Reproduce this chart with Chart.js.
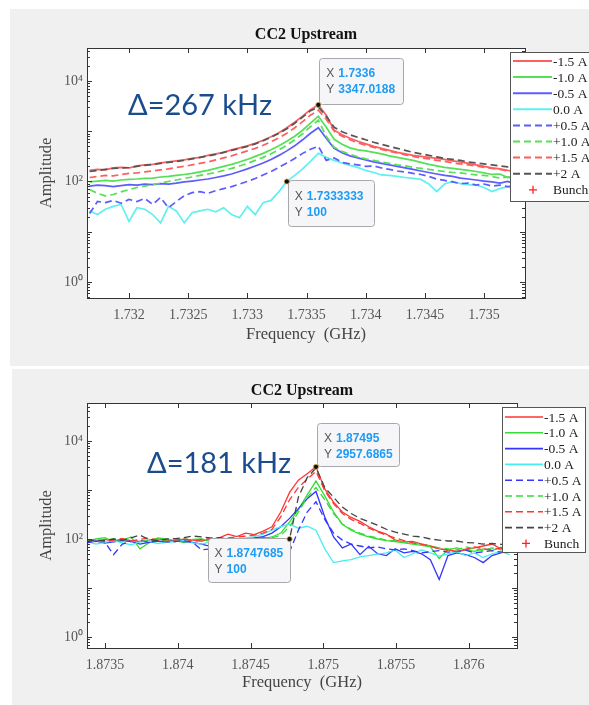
<!DOCTYPE html>
<html>
<head>
<meta charset="utf-8">
<script src="https://cdn.jsdelivr.net/npm/chart.js@4.4.1/dist/chart.umd.min.js"></script>
<style>
  html, body { margin: 0; padding: 0; background: #fff; }
  body { width: 589px; height: 705px; position: relative; overflow: hidden; }
  .panel { position: absolute; background: #f0f0f0; }
  .panel canvas { position: absolute; left: 0; top: 0; }
</style>
</head>
<body>
<div class="panel" style="left:10px;top:9px;width:579px;height:357px"><canvas id="chartTop" width="579" height="357"></canvas></div>
<div class="panel" style="left:12px;top:369px;width:577px;height:336px"><canvas id="chartBottom" width="577" height="336"></canvas></div>
<script>
const seriesLabels = ["-1.5 A", "-1.0 A", "-0.5 A", "0.0 A", "+0.5 A", "+1.0 A", "+1.5 A", "+2 A"];
const markerLabel = "Bunch";
const yTicks = [1, 100, 10000];
const yTickLabels = ["10\u2070", "10\u00b2", "10\u2074"];

// upper plot, 1.7336 GHz mode
const topFreq = [1.7316667, 1.7317333, 1.7318, 1.7318667, 1.7319333, 1.732, 1.7320667, 1.7321333, 1.7322, 1.7322667,
  1.7323333, 1.7324, 1.7324667, 1.7325333, 1.7326, 1.7326667, 1.7327333, 1.7328, 1.7328667, 1.7329333,
  1.733, 1.7330667, 1.7331333, 1.7332, 1.7332667, 1.7333333, 1.7334, 1.7334667, 1.7335333, 1.7336,
  1.7336667, 1.7337333, 1.7338, 1.7338667, 1.7339333, 1.734, 1.7340667, 1.7341333, 1.7342, 1.7342667,
  1.7343333, 1.7344, 1.7344667, 1.7345333, 1.7346, 1.7346667, 1.7347333, 1.7348, 1.7348667, 1.7349333,
  1.735, 1.7350667, 1.7351333, 1.7352, 1.7352667, 1.7353333];
const topM15 = [166, 174, 170, 186, 191, 186, 204, 214, 219, 234, 245, 257, 269, 288, 302, 331, 355, 380, 427, 468,
  513, 575, 661, 776, 933, 1175, 1514, 1995, 2692, 3347.0188, 2089, 1047, 851, 724, 631, 562, 501, 457, 417, 380,
  355, 331, 316, 302, 288, 275, 257, 245, 229, 214, 200, 186, 178, 166, 158, 151];
const topM10 = [98, 102, 105, 102, 107, 110, 112, 115, 117, 123, 126, 132, 138, 145, 155, 166, 182, 200, 219, 245,
  275, 316, 363, 427, 513, 631, 794, 1047, 1445, 1995, 1202, 692, 550, 468, 427, 407, 380, 355, 324, 302,
  282, 263, 240, 219, 204, 191, 182, 174, 166, 158, 148, 138, 141, 120, 129, 115];
const topM05 = [81, 85, 83, 79, 83, 87, 85, 89, 87, 91, 89, 93, 98, 102, 107, 112, 120, 129, 141, 158,
  178, 204, 234, 275, 331, 407, 513, 676, 912, 1175, 724, 457, 372, 324, 295, 269, 245, 229, 214, 200,
  186, 174, 162, 151, 141, 132, 126, 117, 112, 107, 102, 98, 93, 100, 89, 93];
const top00 = [26, 22, 28, 32, 35, 16, 30, 28, 22, 15, 32, 26, 15, 24, 26, 28, 25, 30, 22, 19,
  32, 22, 38, 42, 63, 100, 132, 178, 251, 363, 302, 263, 234, 209, 191, 166, 151, 135, 132, 126,
  120, 115, 110, 89, 63, 89, 100, 91, 87, 85, 76, 63, 72, 79, 71, 76];
const topP05 = [23, 40, 38, 42, 37, 44, 40, 46, 35, 48, 30, 40, 52, 60, 63, 58, 66, 72, 79, 89,
  100, 115, 135, 158, 191, 234, 288, 363, 437, 501, 263, 295, 240, 224, 214, 200, 204, 186, 174, 162,
  155, 145, 138, 126, 112, 105, 98, 91, 93, 85, 89, 81, 85, 79, 83, 78];
const topP10 = [69, 58, 52, 55, 62, 69, 76, 81, 87, 93, 100, 107, 115, 123, 132, 141, 151, 166, 182, 204,
  229, 263, 302, 355, 427, 525, 676, 891, 1230, 1660, 794, 479, 398, 347, 309, 282, 263, 245, 229, 214,
  204, 191, 182, 174, 166, 158, 151, 148, 141, 135, 132, 126, 117, 123, 112, 107];
const topP15 = [120, 126, 132, 129, 138, 145, 148, 155, 162, 170, 178, 191, 200, 214, 229, 245, 269, 295, 324, 363,
  407, 457, 525, 617, 741, 912, 1175, 1549, 2089, 2630, 1738, 1000, 794, 676, 589, 525, 479, 437, 398, 372,
  339, 316, 295, 282, 263, 251, 234, 224, 214, 204, 191, 182, 174, 162, 155, 148];
const topP20 = [158, 166, 174, 182, 186, 190, 200, 209, 219, 229, 240, 251, 263, 282, 302, 324, 347, 380, 417, 457,
  501, 562, 646, 759, 912, 1122, 1445, 1905, 2570, 3020, 1995, 1202, 977, 851, 759, 676, 603, 550, 501, 457,
  417, 380, 355, 331, 309, 288, 275, 263, 245, 234, 224, 214, 204, 195, 190, 186];
const topXTicks = [1.732, 1.7325, 1.733, 1.7335, 1.734, 1.7345, 1.735];
const topXTickLabels = ["1.732", "1.7325", "1.733", "1.7335", "1.734", "1.7345", "1.735"];
const topTipX = ["1.7336", "1.7333333"];
const topTipY = ["3347.0188", "100"];

// lower plot, 1.87495 GHz mode
const botFreq = [1.873377, 1.8734375, 1.873498, 1.8735585, 1.873619, 1.8736795, 1.87374, 1.8738005, 1.873861, 1.8739215,
  1.873982, 1.8740425, 1.874103, 1.8741635, 1.874224, 1.8742845, 1.874345, 1.8744055, 1.874466, 1.8745265,
  1.874587, 1.8746475, 1.874708, 1.8747685, 1.874829, 1.8748895, 1.87495, 1.8750105, 1.875071, 1.8751315,
  1.875192, 1.8752525, 1.875313, 1.8753735, 1.875434, 1.8754945, 1.875555, 1.8756155, 1.875676, 1.8757365,
  1.875797, 1.8758575, 1.875918, 1.8759785, 1.876039, 1.8760995, 1.87616, 1.8762205, 1.876281];
const botM15 = [93, 89, 98, 91, 100, 93, 89, 95, 102, 93, 89, 100, 95, 91, 98, 105, 126, 112, 132, 123,
  145, 178, 355, 891, 1585, 2138, 2957.6865, 1047, 562, 355, 275, 229, 178, 145, 126, 95, 87, 89, 79, 72,
  63, 60, 55, 60, 66, 72, 79, 63, 71];
const botM10 = [91, 100, 107, 89, 95, 110, 63, 83, 105, 100, 93, 85, 98, 100, 91, 95, 100, 93, 98, 105,
  102, 110, 132, 224, 398, 794, 1514, 759, 355, 200, 151, 126, 110, 100, 93, 89, 83, 79, 74, 69,
  40, 60, 66, 60, 56, 63, 58, 68, 60];
const botM05 = [85, 91, 83, 87, 93, 89, 79, 85, 91, 87, 93, 89, 85, 79, 71, 83, 89, 95, 100, 105,
  112, 132, 178, 263, 417, 661, 933, 282, 110, 66, 79, 48, 71, 50, 46, 63, 52, 56, 50, 38,
  15, 46, 52, 48, 42, 33, 46, 52, 58];
const bot00 = [89, 79, 85, 93, 83, 76, 87, 91, 81, 85, 89, 93, 83, 79, 87, 91, 95, 100, 105, 112,
  126, 151, 178, 200, 166, 182, 151, 63, 33, 36, 38, 43, 46, 49, 52, 60, 42, 50, 60, 52,
  45, 50, 55, 46, 52, 42, 50, 55, 48];
const botP05 = [83, 91, 87, 48, 79, 89, 93, 85, 91, 87, 89, 93, 85, 60, 63, 71, 76, 79, 83, 89,
  93, 83, 63, 55, 151, 355, 575, 251, 132, 95, 79, 72, 66, 69, 63, 60, 63, 58, 52, 55,
  58, 54, 56, 59, 52, 55, 58, 54, 56];
const botP10 = [95, 87, 93, 102, 98, 91, 87, 95, 100, 91, 95, 102, 93, 89, 95, 98, 100, 93, 91, 95,
  98, 105, 120, 178, 355, 708, 1122, 631, 331, 200, 158, 132, 115, 105, 95, 91, 87, 83, 79, 72,
  66, 63, 60, 69, 63, 58, 66, 60, 63];
const botP15 = [98, 93, 89, 95, 102, 91, 98, 105, 93, 89, 95, 100, 91, 98, 102, 95, 105, 110, 115, 120,
  132, 158, 282, 631, 1122, 1660, 2399, 955, 525, 331, 251, 209, 166, 141, 120, 105, 93, 83, 79, 71,
  63, 59, 56, 62, 69, 63, 60, 66, 72];
const botP20 = [89, 95, 93, 100, 95, 105, 120, 98, 93, 100, 102, 107, 115, 110, 105, 107, 102, 100, 98, 102,
  105, 100, 98, 100, 708, 1778, 2818, 1122, 708, 447, 331, 263, 224, 191, 158, 138, 126, 115, 110, 100,
  95, 91, 91, 85, 83, 79, 81, 78, 79];
const botXTicks = [1.8735, 1.874, 1.8745, 1.875, 1.8755, 1.876];
const botXTickLabels = ["1.8735", "1.874", "1.8745", "1.875", "1.8755", "1.876"];
const botTipX = ["1.87495", "1.8747685"];
const botTipY = ["2957.6865", "100"];

const dashes = [[], [], [], [], [7, 4], [7, 4], [7, 4], [7, 4]];
const serif = '"Liberation Serif", "Times New Roman", serif';

function makeChart(id, spec) {
  const canvas = document.getElementById(id);
  const W = canvas.width, H = canvas.height;
  const datasets = spec.series.map((vals, k) => ({
    label: seriesLabels[k],
    data: spec.freq.map((f, i) => ({ x: f, y: vals[i] })),
    borderColor: spec.colors[k],
    borderDash: dashes[k],
    borderWidth: spec.lineWidth,
    pointRadius: 0,
    fill: false,
    tension: 0,
    order: 10 - k
  }));
  datasets.push({ label: markerLabel, data: [], borderColor: "#ff2020", pointStyle: "cross", pointRadius: 0, showLine: false });

  const decor = {
    id: "decor",
    beforeDatasetsDraw(chart) {
      const { ctx, chartArea: a } = chart;
      ctx.save();
      ctx.fillStyle = "#fff";
      ctx.fillRect(a.left, a.top, a.right - a.left, a.bottom - a.top);
      ctx.restore();
    },
    afterDatasetsDraw(chart) {
      const { ctx, chartArea: a, scales } = chart;
      const xs = scales.x, ys = scales.y;
      ctx.save();

      // frame with inward MATLAB-style ticks
      ctx.strokeStyle = "#333";
      ctx.lineWidth = 1;
      ctx.beginPath();
      spec.xTicks.forEach((v) => {
        const px = Math.round(xs.getPixelForValue(v)) + 0.5;
        ctx.moveTo(px, a.bottom); ctx.lineTo(px, a.bottom - 5);
        ctx.moveTo(px, a.top); ctx.lineTo(px, a.top + 5);
      });
      for (let d = -1; d <= 5; d++) {
        for (let m = 1; m <= 9; m++) {
          const v = m * Math.pow(10, d);
          if (v < spec.yMin || v > spec.yMax) continue;
          const py = Math.round(ys.getPixelForValue(v)) + 0.5;
          const len = m === 1 ? 5 : 3;
          ctx.moveTo(a.left, py); ctx.lineTo(a.left + len, py);
          ctx.moveTo(a.right, py); ctx.lineTo(a.right - len, py);
        }
      }
      ctx.stroke();
      ctx.strokeRect(Math.round(a.left) + 0.5, Math.round(a.top) + 0.5, Math.round(a.right - a.left), Math.round(a.bottom - a.top));

      // titles
      ctx.fillStyle = "#111";
      ctx.textAlign = "center";
      ctx.textBaseline = "middle";
      ctx.font = "bold 16px " + serif;
      ctx.fillText("CC2 Upstream", (a.left + a.right) / 2, spec.titleY);
      ctx.fillStyle = "#444";
      ctx.font = "16.5px " + serif;
      ctx.fillText("Frequency  (GHz)", (a.left + a.right) / 2, spec.xTitleY);
      ctx.save();
      ctx.translate(spec.yTitleX, (a.top + a.bottom) / 2);
      ctx.rotate(-Math.PI / 2);
      ctx.fillText("Amplitude", 0, 0);
      ctx.restore();

      // frequency shift annotation
      ctx.fillStyle = "#1b4d8e";
      ctx.textAlign = "left";
      ctx.textBaseline = "alphabetic";
      ctx.font = "29px Lato, \"Open Sans\", sans-serif";
      ctx.fillText(spec.delta, spec.deltaX, spec.deltaY);

      // data tips
      spec.tipX.forEach((tx, n) => {
        const px = xs.getPixelForValue(Number(tx));
        const py = ys.getPixelForValue(Number(spec.tipY[n]));
        const b = spec.tipBoxes[n];
        let left = b.side === "left" ? px - b.w : px + 1;
        let top = b.up ? py - b.h - 1 : py - 1;
        ctx.fillStyle = "#f6f6f8";
        ctx.strokeStyle = "#a8a8ac";
        ctx.beginPath();
        ctx.roundRect(Math.round(left) + 0.5, Math.round(top) + 0.5, b.w, b.h, 3);
        ctx.fill();
        ctx.stroke();
        ctx.textBaseline = "middle";
        ctx.font = "12px \"Liberation Sans\", Arial, sans-serif";
        ctx.fillStyle = "#555";
        ctx.fillText("X", left + 7, top + 16);
        ctx.fillText("Y", left + 7, top + 32);
        ctx.font = "bold 12px \"Liberation Sans\", Arial, sans-serif";
        ctx.fillStyle = "#1d9bf5";
        ctx.fillText(tx, left + 19, top + 16);
        ctx.fillText(spec.tipY[n], left + 19, top + 32);
        ctx.beginPath();
        ctx.arc(px, py, 2.6, 0, Math.PI * 2);
        ctx.fillStyle = "#111";
        ctx.fill();
        ctx.strokeStyle = "#e0b860";
        ctx.lineWidth = 0.8;
        ctx.stroke();
        ctx.lineWidth = 1;
      });

      // legend box
      const L = spec.legend;
      ctx.fillStyle = "#fff";
      ctx.fillRect(L.x, L.y, L.w, L.h);
      ctx.strokeStyle = "#555";
      ctx.strokeRect(L.x + 0.5, L.y + 0.5, L.w, L.h);
      ctx.font = "13.5px " + serif;
      ctx.textBaseline = "middle";
      chart.data.datasets.forEach((ds, k) => {
        const ry = L.row0 + k * L.step;
        if (ds.pointStyle === "cross") {
          ctx.strokeStyle = ds.borderColor;
          ctx.lineWidth = 1.3;
          ctx.beginPath();
          ctx.moveTo(L.x + L.mark - 4, ry); ctx.lineTo(L.x + L.mark + 4, ry);
          ctx.moveTo(L.x + L.mark, ry - 4); ctx.lineTo(L.x + L.mark, ry + 4);
          ctx.stroke();
        } else {
          ctx.strokeStyle = ds.borderColor;
          ctx.lineWidth = spec.lineWidth + 0.3;
          ctx.setLineDash(ds.borderDash);
          ctx.beginPath();
          ctx.moveTo(L.x + 3, ry); ctx.lineTo(L.x + L.lineEnd, ry);
          ctx.stroke();
          ctx.setLineDash([]);
        }
        ctx.fillStyle = "#222";
        ctx.fillText(ds.label, L.x + L.lineEnd + 1, ry + 1);
      });
      ctx.restore();
    }
  };

  return new Chart(canvas, {
    type: "line",
    data: { datasets },
    options: {
      responsive: false,
      animation: false,
      devicePixelRatio: 1,
      layout: { padding: { left: 0, top: spec.area.top, right: W - spec.area.right, bottom: 0 } },
      plugins: { legend: { display: false }, title: { display: false }, tooltip: { enabled: false } },
      scales: {
        x: {
          type: "linear",
          min: spec.xMin,
          max: spec.xMax,
          grid: { display: false, drawTicks: false },
          border: { display: false },
          afterBuildTicks: (s) => { s.ticks = spec.xTicks.map((v) => ({ value: v })); },
          afterFit: (s) => { s.height = H - spec.area.bottom; },
          ticks: {
            padding: 9,
            color: "#555",
            font: { family: serif, size: 14 },
            maxRotation: 0,
            callback: (v, i) => spec.xTickLabels[i]
          }
        },
        y: {
          type: "logarithmic",
          min: spec.yMin,
          max: spec.yMax,
          grid: { display: false, drawTicks: false },
          border: { display: false },
          afterBuildTicks: (s) => { s.ticks = yTicks.map((v) => ({ value: v })); },
          afterFit: (s) => { s.width = spec.area.left; },
          ticks: {
            padding: 4,
            color: "#555",
            font: { family: serif, size: 14 },
            callback: (v, i) => yTickLabels[i]
          }
        }
      }
    },
    plugins: [decor]
  });
}

makeChart("chartTop", {
  freq: topFreq,
  series: [topM15, topM10, topM05, top00, topP05, topP10, topP15, topP20],
  colors: ["#ff5e5e", "#55e055", "#5c5cff", "#5ff0f0", "#5c5cff", "#55e055", "#ff5e5e", "#555555"],
  lineWidth: 1.7,
  xMin: 1.731645, xMax: 1.735346, yMin: 0.48, yMax: 45400,
  xTicks: topXTicks, xTickLabels: topXTickLabels,
  area: { left: 77, top: 39, right: 515, bottom: 289 },
  titleY: 26, xTitleY: 326, yTitleX: 37,
  delta: "\u0394=267 kHz", deltaX: 118, deltaY: 106,
  tipX: topTipX, tipY: topTipY,
  tipBoxes: [{ side: "right", up: true, w: 84, h: 46 }, { side: "right", up: false, w: 86, h: 46 }],
  legend: { x: 500, y: 43, w: 95, h: 149, row0: 52, step: 16.1, lineEnd: 42, mark: 23 }
});

makeChart("chartBottom", {
  freq: botFreq,
  series: [botM15, botM10, botM05, bot00, botP05, botP10, botP15, botP20],
  colors: ["#ff3535", "#33dd33", "#3535ff", "#45eeee", "#3535ff", "#33dd33", "#ff3535", "#444444"],
  lineWidth: 1.3,
  xMin: 1.873376, xMax: 1.876332, yMin: 0.627, yMax: 59200,
  xTicks: botXTicks, xTickLabels: botXTickLabels,
  area: { left: 75, top: 34, right: 505, bottom: 279 },
  titleY: 22, xTitleY: 314, yTitleX: 35,
  delta: "\u0394=181 kHz", deltaX: 135, deltaY: 104,
  tipX: botTipX, tipY: botTipY,
  tipBoxes: [{ side: "right", up: true, w: 82, h: 43 }, { side: "left", up: false, w: 82, h: 44 }],
  legend: { x: 490, y: 38, w: 83, h: 145, row0: 48, step: 15.8, lineEnd: 41, mark: 24 }
});
</script>
</body>
</html>
